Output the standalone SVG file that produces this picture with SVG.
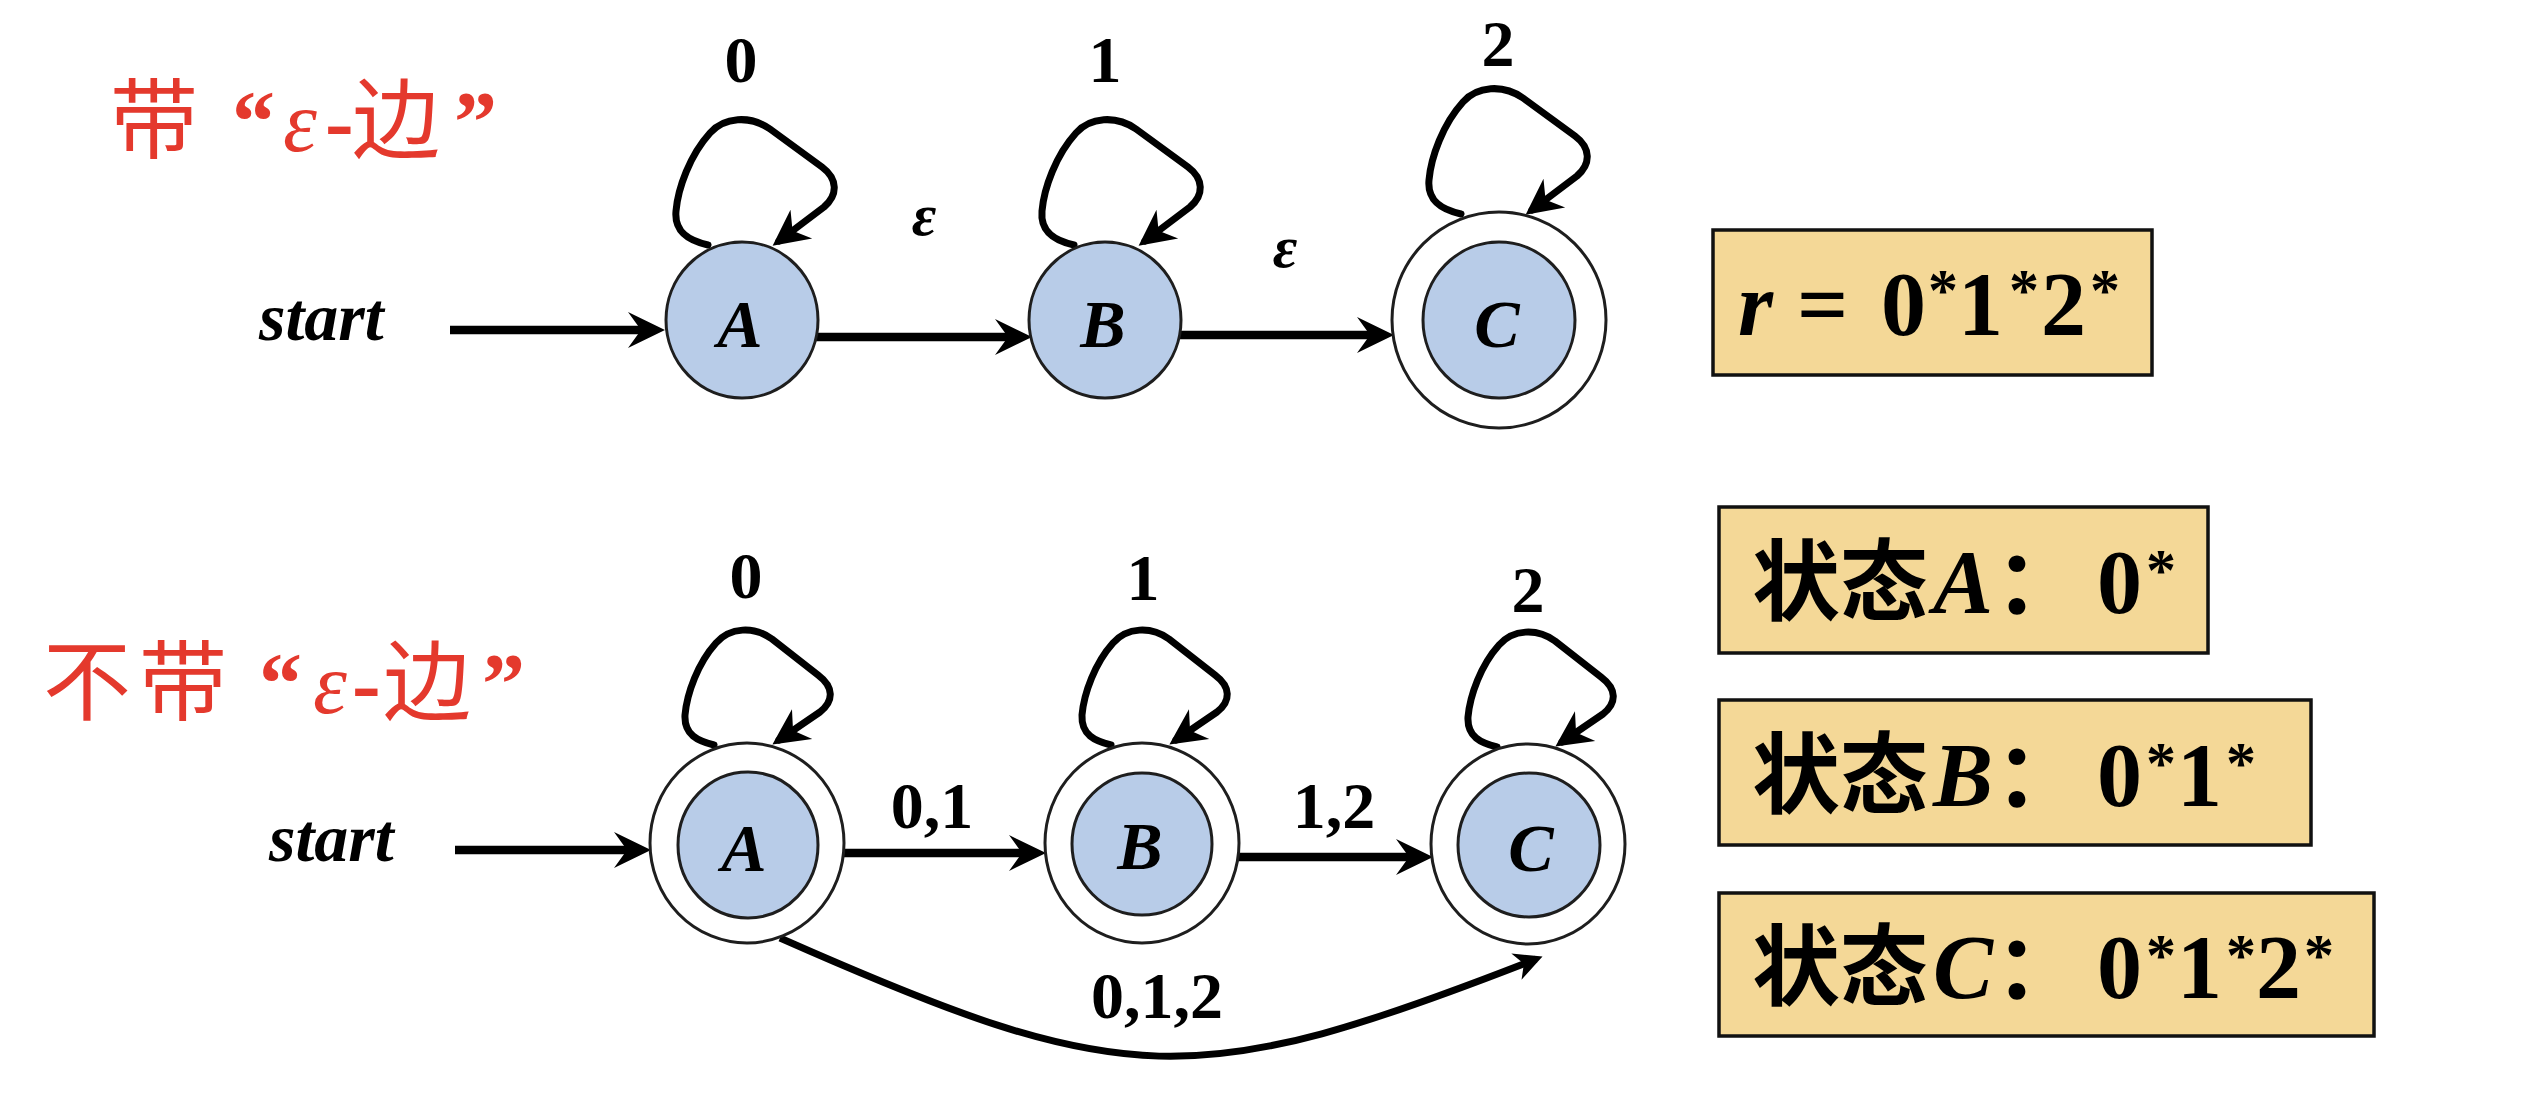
<svg xmlns="http://www.w3.org/2000/svg" width="2546" height="1118" viewBox="0 0 2546 1118">
<style>
.bg{fill:#ffffff}
.st{fill:#B8CCE8;stroke:#1e1e1e;stroke-width:3}
.acc{fill:#ffffff;stroke:#1e1e1e;stroke-width:3}
.edge{fill:none;stroke:#000;stroke-width:8.5;stroke-linejoin:round}
.curve{fill:none;stroke:#000;stroke-width:7;stroke-linejoin:round}
.loop{fill:none;stroke:#000;stroke-width:7;stroke-linejoin:round;stroke-linecap:round}
.lbl{font-family:"Liberation Serif","Times New Roman",serif;font-weight:bold;font-size:66px;fill:#000}
.eps{font-family:"Liberation Serif","Times New Roman",serif;font-style:italic;font-weight:bold;font-size:60px;fill:#000}
.nm{font-family:"Liberation Serif","Times New Roman",serif;font-style:italic;font-weight:bold;font-size:68px;fill:#000}
.start{font-family:"Liberation Serif","Times New Roman",serif;font-style:italic;font-weight:bold;font-size:68px;fill:#000}
.box{fill:#F4D897;stroke:#111;stroke-width:3.5}
.bx{font-family:"Liberation Serif","Times New Roman",serif;font-weight:bold;font-size:90px;fill:#000}
.bxi{font-family:"Liberation Serif","Times New Roman",serif;font-weight:bold;font-style:italic;font-size:90px;fill:#000}
.sup{font-family:"Liberation Serif","Times New Roman",serif;font-weight:bold;font-size:60px;fill:#000}
.cjk{font-family:"Noto Sans CJK SC","Noto Sans CJK JP",sans-serif;font-weight:bold;font-size:88px;fill:#000}
.tcjk{font-family:"Noto Sans CJK SC","Noto Sans CJK JP",sans-serif;font-size:88px;fill:#E4392D}
.tser{font-family:"Liberation Serif","Times New Roman",serif;font-weight:bold;font-size:86px;fill:#E4392D}
.teps{font-family:"Liberation Serif","Times New Roman",serif;font-style:italic;font-size:86px;fill:#E4392D}
</style>
<defs>
<marker id="ah" markerUnits="userSpaceOnUse" viewBox="0 -20 40 40" markerWidth="40" markerHeight="40" refX="26" refY="0" orient="auto">
<path d="M37,0 L0,-18 L13,0 L0,18 Z" fill="#000"/>
</marker>
<marker id="ahl" markerUnits="userSpaceOnUse" viewBox="0 -20 40 40" markerWidth="40" markerHeight="40" refX="28" refY="0" orient="auto">
<path d="M36,0 L0,-18 L11,0 L0,18 Z" fill="#000"/>
</marker>
<marker id="ahs" markerUnits="userSpaceOnUse" viewBox="0 -16 32 32" markerWidth="32" markerHeight="32" refX="21" refY="0" orient="auto">
<path d="M28,0 L0,-14 L8,0 L0,14 Z" fill="#000"/>
</marker>
<path id="loopT" d="M-34,2 C-52,-2 -68,-10 -66,-32 C-64,-55 -52,-88 -32,-110 C-18,-126 8,-128 28,-114 L80,-76 C96,-64 96,-48 82,-36 L37,-2"/>
<path id="loopB" d="M-32,2 C-48,-2 -62,-8 -61,-28 C-59,-50 -48,-80 -30,-100 C-16,-116 8,-117 26,-104 L72,-68 C88,-56 88,-42 74,-31 L33,-3"/>
</defs>
<rect class="bg" x="0" y="0" width="2546" height="1118"/>

<g id="title-top">
<text class="tcjk" x="110" y="151">带</text>
<text class="tser" x="232" y="151">“</text>
<text class="teps" x="283" y="151">ε</text>
<text class="tser" x="325" y="151">-</text>
<text class="tcjk" x="352" y="151">边</text>
<text class="tser" x="454" y="151">”</text>
</g>
<g id="title-bottom">
<text class="tcjk" x="43" y="713">不</text>
<text class="tcjk" x="139" y="713">带</text>
<text class="tser" x="259" y="713">“</text>
<text class="teps" x="313" y="713">ε</text>
<text class="tser" x="352" y="713">-</text>
<text class="tcjk" x="383" y="713">边</text>
<text class="tser" x="482" y="713">”</text>
</g>

<g id="connectors">
<!-- top automaton -->
<path class="edge" d="M450,330 H654" marker-end="url(#ah)"/>
<path class="edge" d="M816,337 H1021" marker-end="url(#ah)"/>
<path class="edge" d="M1180,335 H1383" marker-end="url(#ah)"/>
<use href="#loopT" class="loop" transform="translate(742,243)" marker-end="url(#ahl)"/>
<use href="#loopT" class="loop" transform="translate(1108,243)" marker-end="url(#ahl)"/>
<use href="#loopT" class="loop" transform="translate(1495,212)" marker-end="url(#ahl)"/>
<!-- bottom automaton -->
<path class="edge" d="M455,850 H640" marker-end="url(#ah)"/>
<path class="edge" d="M844,853 H1035" marker-end="url(#ah)"/>
<path class="edge" d="M1238,857 H1422" marker-end="url(#ah)"/>
<path class="curve" d="M780,938 C1126,1091 1193,1093 1536,959" marker-end="url(#ahs)"/>
<use href="#loopB" class="loop" transform="translate(746,743)" marker-end="url(#ahl)"/>
<use href="#loopB" class="loop" transform="translate(1143,743)" marker-end="url(#ahl)"/>
<use href="#loopB" class="loop" transform="translate(1529,745)" marker-end="url(#ahl)"/>
</g>

<g id="edge-labels">
<text class="lbl" x="741" y="82" text-anchor="middle">0</text>
<text class="lbl" x="1105" y="82" text-anchor="middle">1</text>
<text class="lbl" x="1498" y="66" text-anchor="middle">2</text>
<text class="eps" x="924" y="235" text-anchor="middle">ε</text>
<text class="eps" x="1285" y="267" text-anchor="middle">ε</text>
<text class="start" x="259" y="340">start</text>
<text class="lbl" x="746" y="598" text-anchor="middle">0</text>
<text class="lbl" x="1143" y="600" text-anchor="middle">1</text>
<text class="lbl" x="1528" y="612" text-anchor="middle">2</text>
<text class="start" x="269" y="861">start</text>
<text class="lbl" x="932" y="828" text-anchor="middle">0,1</text>
<text class="lbl" x="1334" y="828" text-anchor="middle">1,2</text>
<text class="lbl" x="1157" y="1018" text-anchor="middle">0,1,2</text>
</g>

<g id="node-A-top">
<ellipse class="st" cx="742" cy="320" rx="76" ry="78"/>
<text class="nm" x="740" y="347" text-anchor="middle">A</text>
</g>
<g id="node-B-top">
<ellipse class="st" cx="1105" cy="320" rx="76" ry="78"/>
<text class="nm" x="1103" y="347" text-anchor="middle">B</text>
</g>
<g id="node-C-top">
<ellipse class="acc" cx="1499" cy="320" rx="107" ry="108"/>
<ellipse class="st" cx="1499" cy="320" rx="76" ry="78"/>
<text class="nm" x="1497" y="347" text-anchor="middle">C</text>
</g>

<g id="node-A-bottom">
<ellipse class="acc" cx="747" cy="843" rx="97" ry="100"/>
<ellipse class="st" cx="748" cy="845" rx="70" ry="73"/>
<text class="nm" x="744" y="871" text-anchor="middle">A</text>
</g>
<g id="node-B-bottom">
<ellipse class="acc" cx="1142" cy="843" rx="97" ry="100"/>
<ellipse class="st" cx="1142" cy="844" rx="70" ry="71"/>
<text class="nm" x="1140" y="869" text-anchor="middle">B</text>
</g>
<g id="node-C-bottom">
<ellipse class="acc" cx="1528" cy="844" rx="97" ry="100"/>
<ellipse class="st" cx="1529" cy="845" rx="71" ry="72"/>
<text class="nm" x="1531" y="871" text-anchor="middle">C</text>
</g>

<g id="box-regex">
<rect class="box" x="1713" y="230" width="439" height="145"/>
<text class="bxi" x="1738" y="335">r</text>
<text class="bx" x="1797" y="335">=</text>
<text class="bx" x="1881" y="335">0</text>
<text class="sup" x="1928" y="310">*</text>
<text class="bx" x="1958" y="335">1</text>
<text class="sup" x="2009" y="310">*</text>
<text class="bx" x="2041" y="335">2</text>
<text class="sup" x="2090" y="310">*</text>
</g>

<g id="box-state-A">
<rect class="box" x="1719" y="507" width="489" height="146"/>
<text class="cjk" x="1752" y="613">状态</text>
<text class="bxi" x="1933" y="613">A</text>
<text class="cjk" x="1995" y="613">：</text>
<text class="bx" x="2097" y="613">0</text>
<text class="sup" x="2146" y="590">*</text>
</g>
<g id="box-state-B">
<rect class="box" x="1719" y="700" width="592" height="145"/>
<text class="cjk" x="1752" y="806">状态</text>
<text class="bxi" x="1933" y="806">B</text>
<text class="cjk" x="1995" y="806">：</text>
<text class="bx" x="2097" y="806">0</text>
<text class="sup" x="2146" y="783">*</text>
<text class="bx" x="2177" y="806">1</text>
<text class="sup" x="2226" y="783">*</text>
</g>
<g id="box-state-C">
<rect class="box" x="1719" y="893" width="655" height="143"/>
<text class="cjk" x="1752" y="998">状态</text>
<text class="bxi" x="1933" y="998">C</text>
<text class="cjk" x="1995" y="998">：</text>
<text class="bx" x="2097" y="998">0</text>
<text class="sup" x="2146" y="975">*</text>
<text class="bx" x="2177" y="998">1</text>
<text class="sup" x="2226" y="975">*</text>
<text class="bx" x="2256" y="998">2</text>
<text class="sup" x="2304" y="975">*</text>
</g>
</svg>
